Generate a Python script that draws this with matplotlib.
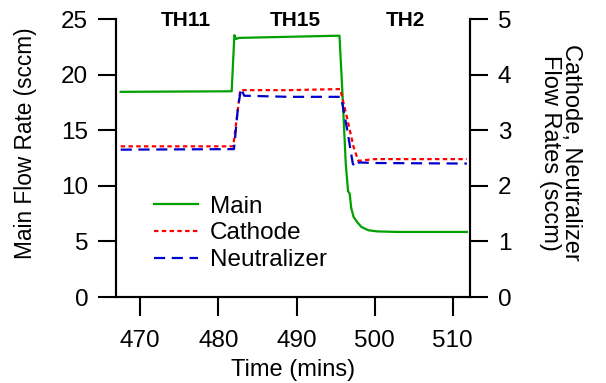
import matplotlib
matplotlib.use("Agg")
import matplotlib.pyplot as plt

plt.rcParams['font.family'] = ['Liberation Sans', 'DejaVu Sans']

main_t = [467.5, 481.7, 482.05, 482.3, 482.6, 489.0, 495.5, 495.9, 496.3, 496.6, 496.8, 497.0, 497.3, 497.8, 498.3, 499.2, 500.3, 503.0, 511.8]
main_v = [18.45, 18.5, 23.55, 23.2, 23.3, 23.4, 23.5, 18.0, 12.0, 9.5, 9.3, 8.0, 7.2, 6.7, 6.3, 6.0, 5.9, 5.85, 5.85]

cath_t = [467.5, 481.9, 482.8, 489.0, 495.6, 496.5, 497.3, 497.9, 500.0, 511.8]
cath_v = [2.71, 2.71, 3.72, 3.72, 3.74, 3.2, 2.7, 2.45, 2.48, 2.48]

neut_t = [467.5, 482.0, 482.5, 482.9, 483.3, 489.0, 495.7, 496.5, 497.2, 497.5, 498.0, 500.0, 511.8]
neut_v = [2.65, 2.66, 3.4, 3.75, 3.62, 3.6, 3.6, 3.0, 2.4, 2.34, 2.42, 2.41, 2.40]

region_labels = ["TH11", "TH15", "TH2"]
region_x = [475.8, 489.8, 503.9]

fig = plt.figure(figsize=(6.06, 3.83), dpi=100)
ax = fig.add_axes([116/606, 1-297/383, (470-116)/606, (297-19)/383])
ax2 = ax.twinx()

l1, = ax.plot(main_t, main_v, color='#00a000', lw=1.6, label='Main')
l2, = ax2.plot(cath_t, cath_v, color='#ff0000', lw=1.6, ls=(0, (2, 1.5)), label='Cathode')
l3, = ax2.plot(neut_t, neut_v, color='#0000cc', lw=1.6, ls=(0, (5, 3)), label='Neutralizer')

ax.set_xlim(466.9, 512.2)
ax.set_ylim(0, 25)
ax2.set_ylim(0, 5)
ax.set_xticks([470, 480, 490, 500, 510])
ax.set_yticks([0, 5, 10, 15, 20, 25])
ax2.set_yticks([0, 1, 2, 3, 4, 5])

for a in (ax, ax2):
    a.spines['top'].set_visible(False)
    for s in a.spines.values():
        s.set_linewidth(1.5)
    a.tick_params(direction='out', length=13, width=1.5, labelsize=17.5, pad=7)
ax.tick_params(axis='x', length=14, pad=10)

ax.set_xlabel('Time (mins)', fontsize=17, labelpad=5)
ax.set_ylabel('Main Flow Rate (sccm)', fontsize=16.3)
ax.yaxis.set_label_coords(-0.222, 0.554)
ax2.set_ylabel('Cathode, Neutralizer\nFlow Rates (sccm)', fontsize=17, rotation=270,
               va='bottom', ha='center', linespacing=0.95)
ax2.yaxis.set_label_coords(1.195, 0.52)

for lab, x in zip(region_labels, region_x):
    ax.text(x, 24.9, lab, ha='center', va='center', fontsize=15, fontweight='bold')

leg = ax.legend(handles=[l1, l2, l3], loc='upper left', bbox_to_anchor=(0.08, 0.40),
                frameon=False, fontsize=17.5, handlelength=1.8, handletextpad=0.5,
                labelspacing=0.2, borderaxespad=0)

fig.savefig('out.png', dpi=100)
